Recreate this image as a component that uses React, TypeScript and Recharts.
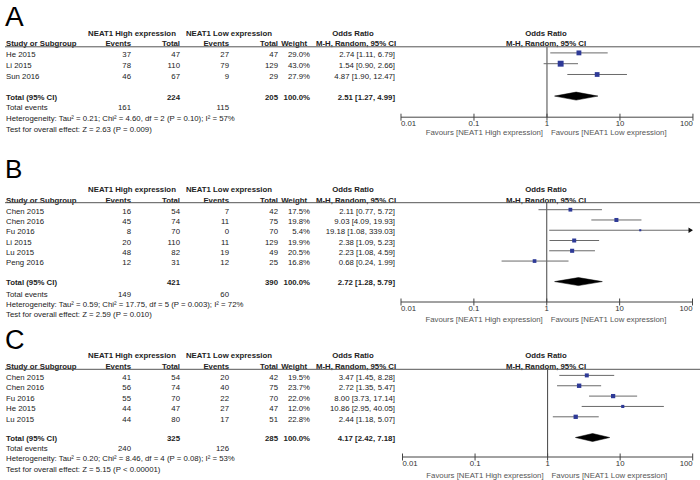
import React from "react";
import { ComposedChart, XAxis, YAxis, Scatter, Area, ReferenceLine } from "recharts";

const FONT = '"Liberation Sans", Arial, Helvetica, sans-serif';
const FS = 7.8;
const TXT = "#222";

// ---------- shared labels ----------
const headHigh = "NEAT1 High expression";
const headLow = "NEAT1 Low expression";
const favHigh = "Favours [NEAT1 High expression]";
const favLow = "Favours [NEAT1 Low expression]";
const orTicks = [0.01, 0.1, 1, 10, 100];
const orTickLabels = ["0.01", "0.1", "1", "10", "100"];

// ---------- Panel A ----------
const studiesA = ["He 2015", "Li 2015", "Sun 2016"];
const highEventsA = [37, 78, 46];
const highTotalA = [47, 110, 67];
const lowEventsA = [27, 79, 9];
const lowTotalA = [47, 129, 29];
const weightA = [29.0, 43.0, 27.9];
const orA = [2.74, 1.54, 4.87];
const loA = [1.11, 0.9, 1.9];
const hiA = [6.79, 2.66, 12.47];
const totalsA = [224, 205];
const eventsA = [161, 115];
const pooledA = [2.51, 1.27, 4.99];
const hetA = "Heterogeneity: Tau² = 0.21; Chi² = 4.60, df = 2 (P = 0.10); I² = 57%";
const testA = "Test for overall effect: Z = 2.63 (P = 0.009)";

// ---------- Panel B ----------
const studiesB = ["Chen 2015", "Chen 2016", "Fu 2016", "Li 2015", "Lu 2015", "Peng 2016"];
const highEventsB = [16, 45, 8, 20, 48, 12];
const highTotalB = [54, 74, 70, 110, 82, 31];
const lowEventsB = [7, 11, 0, 11, 19, 12];
const lowTotalB = [42, 75, 70, 129, 49, 25];
const weightB = [17.5, 19.8, 5.4, 19.9, 20.5, 16.8];
const orB = [2.11, 9.03, 19.18, 2.38, 2.23, 0.68];
const loB = [0.77, 4.09, 1.08, 1.09, 1.08, 0.24];
const hiB = [5.72, 19.93, 339.03, 5.23, 4.59, 1.99];
const totalsB = [421, 390];
const eventsB = [149, 60];
const pooledB = [2.72, 1.28, 5.79];
const hetB = "Heterogeneity: Tau² = 0.59; Chi² = 17.75, df = 5 (P = 0.003); I² = 72%";
const testB = "Test for overall effect: Z = 2.59 (P = 0.010)";

// ---------- Panel C ----------
const studiesC = ["Chen 2015", "Chen 2016", "Fu 2016", "He 2015", "Lu 2015"];
const highEventsC = [41, 56, 55, 44, 44];
const highTotalC = [54, 74, 70, 47, 80];
const lowEventsC = [20, 40, 22, 27, 17];
const lowTotalC = [42, 75, 70, 47, 51];
const weightC = [19.5, 23.7, 22.0, 12.0, 22.8];
const orC = [3.47, 2.72, 8.0, 10.86, 2.44];
const loC = [1.45, 1.35, 3.73, 2.95, 1.18];
const hiC = [8.28, 5.47, 17.14, 40.05, 5.07];
const totalsC = [325, 285];
const eventsC = [240, 126];
const pooledC = [4.17, 2.42, 7.18];
const hetC = "Heterogeneity: Tau² = 0.20; Chi² = 8.46, df = 4 (P = 0.08); I² = 53%";
const testC = "Test for overall effect: Z = 5.15 (P < 0.00001)";

type PanelData = {
  letter: string;
  studies: string[];
  highEvents: number[];
  highTotal: number[];
  lowEvents: number[];
  lowTotal: number[];
  weight: number[];
  or: number[];
  lo: number[];
  hi: number[];
  totals: number[];
  events: number[];
  pooled: number[];
  het: string;
  test: string;
};

type Layout = {
  letterY: number; letterSize: number;
  h1: number; h2: number; line: number;
  row0: number; step: number; total: number;
  events: number; het: number; test: number;
  axis: number; fav: number; x001: number; x100: number;
};

const panels: { d: PanelData; L: Layout }[] = [
  {
    d: { letter: "A", studies: studiesA, highEvents: highEventsA, highTotal: highTotalA, lowEvents: lowEventsA, lowTotal: lowTotalA, weight: weightA, or: orA, lo: loA, hi: hiA, totals: totalsA, events: eventsA, pooled: pooledA, het: hetA, test: testA },
    L: { letterY: 25.5, letterSize: 28, h1: 33.3, h2: 43.3, line: 46.8, row0: 54.3, step: 10.8, total: 96.7, events: 107.3, het: 118.3, test: 128.7, axis: 117, fav: 132.5, x001: 401, x100: 693 },
  },
  {
    d: { letter: "B", studies: studiesB, highEvents: highEventsB, highTotal: highTotalB, lowEvents: lowEventsB, lowTotal: lowTotalB, weight: weightB, or: orB, lo: loB, hi: hiB, totals: totalsB, events: eventsB, pooled: pooledB, het: hetB, test: testB },
    L: { letterY: 178.3, letterSize: 26, h1: 189.3, h2: 200, line: 202.7, row0: 211, step: 10.27, total: 282.3, events: 294, het: 304, test: 314.3, axis: 301.7, fav: 319, x001: 401, x100: 692.5 },
  },
  {
    d: { letter: "C", studies: studiesC, highEvents: highEventsC, highTotal: highTotalC, lowEvents: lowEventsC, lowTotal: lowTotalC, weight: weightC, or: orC, lo: loC, hi: hiC, totals: totalsC, events: eventsC, pooled: pooledC, het: hetC, test: testC },
    L: { letterY: 349.3, letterSize: 27, h1: 355, h2: 365.7, line: 369.3, row0: 377.3, step: 10.35, total: 437.7, events: 448, het: 458.3, test: 469, axis: 457.3, fav: 475, x001: 402.5, x100: 692.7 },
  },
];

const X_MIN = orTicks[0];
const X_MAX = orTicks[orTicks.length - 1];
const fmtOR = (o: number, l: number, h: number) => `${o.toFixed(2)} [${l.toFixed(2)}, ${h.toFixed(2)}]`;

// column anchors
const COL = { study: 6, hiEv: 131, hiTot: 180, loEv: 229, loTot: 278, wt: 310, wtHead: 307, or: 395, orHead: 353, orSub: 356, highHead: 132, lowHead: 229, plotHead: 546 };

const T = (props: any) => {
  const { x, y, children, anchor = "start", bold = false, fill = TXT, size = FS } = props;
  return (
    <text x={x} y={y + size * 0.36} textAnchor={anchor} fontFamily={FONT} fontSize={size} fontWeight={bold ? 700 : 400} fill={fill}>
      {children}
    </text>
  );
};

const AxisTick = (props: any) => {
  const { x, y, payload } = props;
  const idx = orTicks.indexOf(payload.value);
  const anchor = idx === 0 ? "start" : idx === orTicks.length - 1 ? "end" : "middle";
  return (
    <g>
      <line x1={x} x2={x} y1={y - 3.5} y2={y + 3.5} stroke="#444" strokeWidth={1} />
      <text x={x} y={y + 9} textAnchor={anchor} fontFamily={FONT} fontSize={FS} fill="#333">
        {orTickLabels[idx]}
      </text>
    </g>
  );
};

const SquareShape = (props: any) => {
  const { cx, cy, payload } = props;
  const s = 0.9 * Math.sqrt(payload.w);
  return <rect x={cx - s / 2} y={cy - s / 2} width={s} height={s} fill="#2E3A97" />;
};

const ArrowShape = (props: any) => {
  const { cx, cy } = props;
  return <polygon points={`${cx - 4},${cy - 2.8} ${cx + 0.5},${cy} ${cx - 4},${cy + 2.8}`} fill="#111" />;
};

function ForestPanel({ d, L }: { d: PanelData; L: Layout }) {
  const n = d.studies.length;
  const markerOffset = -1.6;
  const m0 = L.row0 + markerOffset;
  const plotH = L.axis - L.line;
  const yLo = -(m0 - L.line) / L.step;
  const yHi = (L.axis - m0) / L.step;
  const tIdx = n + 1;
  const halfH = 4 / L.step;

  const squares = d.studies.map((s, i) => ({ x: d.or[i], y: i, w: d.weight[i] }));
  const arrows = d.studies.map((s, i) => ({ x: X_MAX, y: i, hi: d.hi[i] })).filter((p) => p.hi > X_MAX);
  const diamond = [
    { x: d.pooled[1], d: [tIdx, tIdx] },
    { x: d.pooled[0], d: [tIdx - halfH, tIdx + halfH] },
    { x: d.pooled[2], d: [tIdx, tIdx] },
  ];
  const xOne = L.x001 + (L.x100 - L.x001) / 2;

  return (
    <>
      <div style={{ position: "absolute", left: 0, top: L.line }}>
        <ComposedChart width={700} height={plotH + 20} margin={{ top: 0, right: 700 - L.x100, bottom: 0, left: L.x001 }}>
          <XAxis
            dataKey="x"
            type="number"
            scale="log"
            domain={[X_MIN, X_MAX]}
            allowDataOverflow
            ticks={orTicks}
            interval={0}
            height={20}
            axisLine={{ stroke: "#444", strokeWidth: 1 }}
            tickLine={false}
            tickSize={0}
            tickMargin={0}
            tick={<AxisTick />}
          />
          <YAxis type="number" domain={[yLo, yHi]} reversed hide allowDataOverflow width={0} />
          <ReferenceLine x={1} stroke="#444" strokeWidth={1} ifOverflow="visible" />
          {d.studies.map((s, i) => (
            <ReferenceLine
              key={s + i}
              segment={[
                { x: Math.max(d.lo[i], X_MIN), y: i },
                { x: Math.min(d.hi[i], X_MAX), y: i },
              ]}
              stroke="#6a6a6a"
              strokeWidth={1}
              ifOverflow="visible"
            />
          ))}
          <Area data={diamond} dataKey="d" type="linear" fill="#000" fillOpacity={1} stroke="#000" strokeWidth={0.5} dot={false} activeDot={false} isAnimationActive={false} />
          <Scatter data={squares} dataKey="y" shape={SquareShape} isAnimationActive={false} />
          <Scatter data={arrows} dataKey="y" shape={ArrowShape} isAnimationActive={false} />
        </ComposedChart>
      </div>
      <svg width={700} height={480} style={{ position: "absolute", left: 0, top: 0, pointerEvents: "none" }}>
        <text x={5} y={L.letterY} fontFamily={FONT} fontSize={L.letterSize} fill="#000">{d.letter}</text>
        <T x={COL.highHead} y={L.h1} anchor="middle" bold>{headHigh}</T>
        <T x={COL.lowHead} y={L.h1} anchor="middle" bold>{headLow}</T>
        <T x={COL.orHead} y={L.h1} anchor="middle" bold>Odds Ratio</T>
        <T x={COL.plotHead} y={L.h1} anchor="middle" bold>Odds Ratio</T>
        <T x={COL.study} y={L.h2} bold>Study or Subgroup</T>
        <T x={COL.hiEv} y={L.h2} anchor="end" bold>Events</T>
        <T x={COL.hiTot} y={L.h2} anchor="end" bold>Total</T>
        <T x={COL.loEv} y={L.h2} anchor="end" bold>Events</T>
        <T x={COL.loTot} y={L.h2} anchor="end" bold>Total</T>
        <T x={COL.wtHead} y={L.h2} anchor="end" bold>Weight</T>
        <T x={COL.orSub} y={L.h2} anchor="middle" bold>M-H, Random, 95% CI</T>
        <T x={COL.plotHead} y={L.h2} anchor="middle" bold>M-H, Random, 95% CI</T>
        <line x1={5} x2={700} y1={L.line} y2={L.line} stroke="#555" strokeWidth={1} />
        {d.studies.map((s, i) => {
          const y = L.row0 + i * L.step;
          return (
            <g key={s + i}>
              <T x={COL.study} y={y}>{s}</T>
              <T x={COL.hiEv} y={y} anchor="end">{d.highEvents[i]}</T>
              <T x={COL.hiTot} y={y} anchor="end">{d.highTotal[i]}</T>
              <T x={COL.loEv} y={y} anchor="end">{d.lowEvents[i]}</T>
              <T x={COL.loTot} y={y} anchor="end">{d.lowTotal[i]}</T>
              <T x={COL.wt} y={y} anchor="end">{d.weight[i].toFixed(1)}%</T>
              <T x={COL.or} y={y} anchor="end">{fmtOR(d.or[i], d.lo[i], d.hi[i])}</T>
            </g>
          );
        })}
        <T x={COL.study} y={L.total} bold>Total (95% CI)</T>
        <T x={COL.hiTot} y={L.total} anchor="end" bold>{d.totals[0]}</T>
        <T x={COL.loTot} y={L.total} anchor="end" bold>{d.totals[1]}</T>
        <T x={COL.wt} y={L.total} anchor="end" bold>100.0%</T>
        <T x={COL.or} y={L.total} anchor="end" bold>{fmtOR(d.pooled[0], d.pooled[1], d.pooled[2])}</T>
        <T x={COL.study} y={L.events}>Total events</T>
        <T x={COL.hiEv} y={L.events} anchor="end">{d.events[0]}</T>
        <T x={COL.loEv} y={L.events} anchor="end">{d.events[1]}</T>
        <T x={COL.study} y={L.het}>{d.het}</T>
        <T x={COL.study} y={L.test}>{d.test}</T>
        <T x={xOne - 4} y={L.fav} anchor="end" fill="#555">{favHigh}</T>
        <T x={xOne + 4} y={L.fav} fill="#555">{favLow}</T>
      </svg>
    </>
  );
}

export default function App() {
  return (
    <div style={{ position: "absolute", left: 0, top: 0, width: 700, height: 480, background: "#fff", overflow: "hidden" }}>
      {panels.map((p) => (
        <ForestPanel key={p.d.letter} d={p.d} L={p.L} />
      ))}
    </div>
  );
}
